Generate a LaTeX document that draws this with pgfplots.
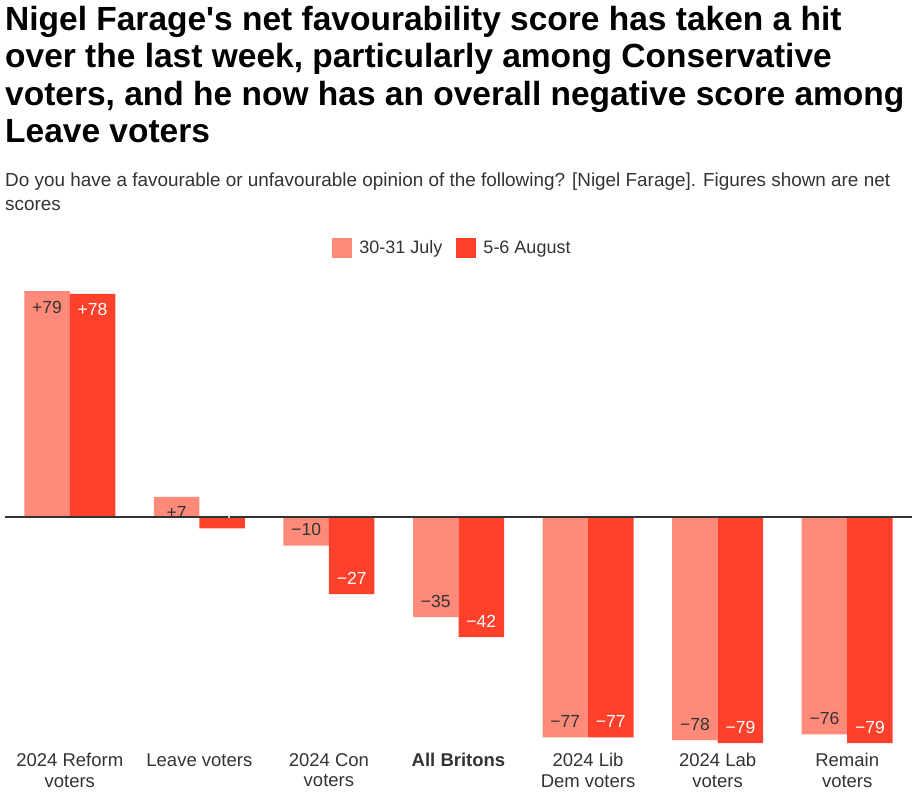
\documentclass[border=0pt]{standalone}
\usepackage{fontspec}
\setmainfont{Liberation Sans}
\usepackage{pgfplots}
\usepackage{pgfplotstable}
\pgfplotsset{compat=1.18}
\definecolor{lightred}{HTML}{FF8A7A}
\definecolor{darkred}{HTML}{FF412C}
\definecolor{txt}{HTML}{333333}

\pgfplotstableread{
x y lab
0 79 +79
1 7 +7
2 -10 −10
3 -35 −35
4 -77 −77
5 -78 −78
6 -76 −76
}\july
\pgfplotstableread{
x y lab
0 78 +78
1 -4 −4
2 -27 −27
3 -42 −42
4 -77 −77
5 -79 −79
6 -79 −79
}\august

\begin{document}
\begin{tikzpicture}
\useasboundingbox (0,0) rectangle (912pt,798pt);
\node[anchor=north west, inner sep=0pt, align=left, font=\fontsize{33.5}{37.5}\selectfont\bfseries, text=black]
  at (5pt,792pt) {Nigel Farage\textquotesingle s net favourability score has taken a hit\\over the last week, particularly among Conservative\\voters, and he now has an overall negative score among\\Leave voters};
\node[anchor=north west, inner sep=0pt, align=left, font=\fontsize{18.9}{24}\selectfont, text=txt]
  at (5pt,625pt) {Do you have a favourable or unfavourable opinion of the following? [Nigel Farage]. Figures shown are net\\scores};
\begin{axis}[
  at={(5pt,55pt)}, anchor=south west,
  scale only axis, width=907pt, height=452pt,
  xmin=-0.5, xmax=6.5, ymin=-79, ymax=79,
  clip=false,
  axis line style={draw=none},
  major tick length=0pt,
  ytick=\empty,
  xtick={0,...,6},
  xticklabels={{2024 Reform\\voters},{Leave voters},{2024 Con\\voters},{\textbf{All Britons}},{2024 Lib\\Dem voters},{2024 Lab\\voters},{Remain\\voters}},
  xticklabel style={align=center, font=\fontsize{18.5}{20.5}\selectfont, text=txt, yshift=-7pt},
  ybar=0pt, bar width=45.5pt,
  visualization depends on={y \as \rawy},
  nodes near coords,
  point meta=explicit symbolic,
  nodes near coords style={anchor=center, font=\fontsize{17.5}{20}\selectfont},
  every node near coord/.append style={anchor=center, yshift={(\rawy<0)*32-16}},
  legend columns=2,
  legend style={at={(0.5,1)}, anchor=south, yshift=31pt, xshift=-6pt, draw=none, fill=none,
    font=\fontsize{18}{20}\selectfont, text=txt,
    /tikz/every odd column/.append style={column sep=5pt},
    /tikz/every even column/.append style={column sep=12pt}},
  legend image code/.code={\fill[#1] (0pt,-10pt) rectangle (20pt,10pt);},
]
\addplot[fill=lightred, draw=none, nodes near coords style={text=txt}] table[x=x, y=y, meta=lab] {\july};
\addplot[fill=darkred, draw=none, nodes near coords style={text=white}] table[x=x, y=y, meta=lab] {\august};
\legend{30-31 July, 5-6 August}
\draw[txt, line width=1.2pt] (axis cs:-0.5,0) -- (axis cs:6.5,0);
\end{axis}
\end{tikzpicture}
\end{document}
